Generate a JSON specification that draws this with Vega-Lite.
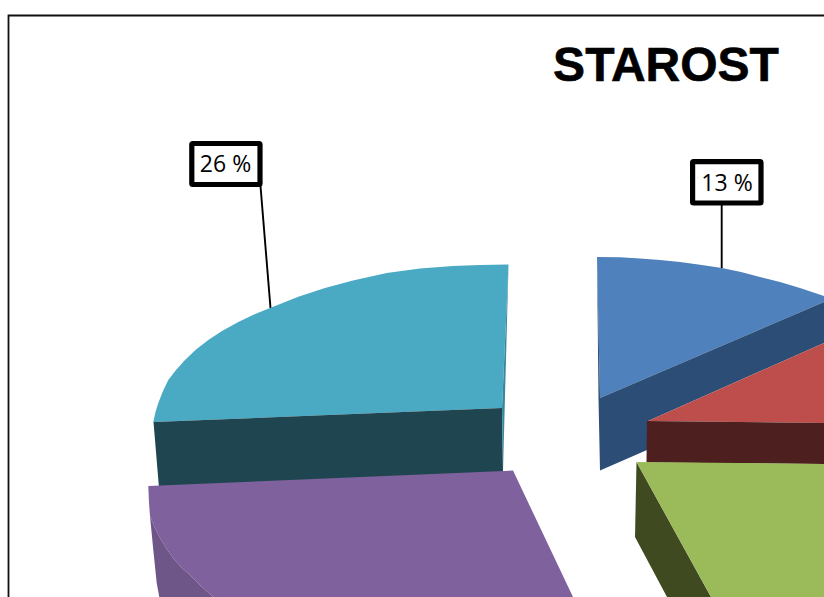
{
  "$schema": "https://vega.github.io/schema/vega-lite/v6.json",
  "width": 824,
  "height": 597,
  "padding": 0,
  "autosize": "none",
  "background": "white",
  "config": {"view": {"stroke": null}},
  "datasets": {
    "faces": [
      {"piece":"a_teal_top","seq":1,"x":508.5,"y":264.5},{"piece":"a_teal_top","seq":2,"x":480,"y":265},{"piece":"a_teal_top","seq":3,"x":453,"y":266},{"piece":"a_teal_top","seq":4,"x":420,"y":268.5},{"piece":"a_teal_top","seq":5,"x":386.7,"y":273},{"piece":"a_teal_top","seq":6,"x":353,"y":280.5},{"piece":"a_teal_top","seq":7,"x":325,"y":288},{"piece":"a_teal_top","seq":8,"x":298.3,"y":296.7},{"piece":"a_teal_top","seq":9,"x":270,"y":308},{"piece":"a_teal_top","seq":10,"x":253,"y":315},{"piece":"a_teal_top","seq":11,"x":238.3,"y":322},{"piece":"a_teal_top","seq":12,"x":222,"y":331},{"piece":"a_teal_top","seq":13,"x":208.3,"y":340},{"piece":"a_teal_top","seq":14,"x":196,"y":349.5},{"piece":"a_teal_top","seq":15,"x":185,"y":360},{"piece":"a_teal_top","seq":16,"x":176,"y":370},{"piece":"a_teal_top","seq":17,"x":168.3,"y":380},{"piece":"a_teal_top","seq":18,"x":163,"y":391},{"piece":"a_teal_top","seq":19,"x":158.3,"y":403},{"piece":"a_teal_top","seq":20,"x":155.5,"y":412},{"piece":"a_teal_top","seq":21,"x":153.3,"y":422},{"piece":"a_teal_top","seq":22,"x":502,"y":408},
      {"piece":"b_teal_side","seq":1,"x":153.5,"y":422},{"piece":"b_teal_side","seq":2,"x":502,"y":408},{"piece":"b_teal_side","seq":3,"x":503,"y":472},{"piece":"b_teal_side","seq":4,"x":159,"y":488},
      {"piece":"c_teal_cut","seq":1,"x":508.5,"y":265},{"piece":"c_teal_cut","seq":2,"x":502,"y":408},{"piece":"c_teal_cut","seq":3,"x":503,"y":471},
      {"piece":"d_blue_top","seq":1,"x":597,"y":257},{"piece":"d_blue_top","seq":2,"x":620,"y":257.3},{"piece":"d_blue_top","seq":3,"x":640,"y":258.5},{"piece":"d_blue_top","seq":4,"x":660,"y":260},{"piece":"d_blue_top","seq":5,"x":680,"y":262},{"piece":"d_blue_top","seq":6,"x":700,"y":264.7},{"piece":"d_blue_top","seq":7,"x":722,"y":268},{"piece":"d_blue_top","seq":8,"x":741,"y":272},{"piece":"d_blue_top","seq":9,"x":760,"y":277},{"piece":"d_blue_top","seq":10,"x":780,"y":282},{"piece":"d_blue_top","seq":11,"x":800,"y":288},{"piece":"d_blue_top","seq":12,"x":824,"y":296},{"piece":"d_blue_top","seq":13,"x":824,"y":302},{"piece":"d_blue_top","seq":14,"x":600,"y":398},
      {"piece":"e_blue_side","seq":1,"x":600,"y":398},{"piece":"e_blue_side","seq":2,"x":824,"y":302},{"piece":"e_blue_side","seq":3,"x":824,"y":343},{"piece":"e_blue_side","seq":4,"x":648,"y":421},{"piece":"e_blue_side","seq":5,"x":647,"y":450},{"piece":"e_blue_side","seq":6,"x":600,"y":470.5},{"piece":"e_blue_side","seq":7,"x":598.5,"y":398},{"piece":"e_blue_side","seq":8,"x":597,"y":257},
      {"piece":"f_red_top","seq":1,"x":648,"y":421},{"piece":"f_red_top","seq":2,"x":824,"y":343},{"piece":"f_red_top","seq":3,"x":824,"y":423},
      {"piece":"g_red_side","seq":1,"x":647,"y":421},{"piece":"g_red_side","seq":2,"x":824,"y":423},{"piece":"g_red_side","seq":3,"x":824,"y":464},{"piece":"g_red_side","seq":4,"x":646.5,"y":462.5},
      {"piece":"h_green_side","seq":1,"x":636.5,"y":462},{"piece":"h_green_side","seq":2,"x":711,"y":597},{"piece":"h_green_side","seq":3,"x":667,"y":597},{"piece":"h_green_side","seq":4,"x":635,"y":537},
      {"piece":"i_green_top","seq":1,"x":636.5,"y":462},{"piece":"i_green_top","seq":2,"x":824,"y":464},{"piece":"i_green_top","seq":3,"x":824,"y":597},{"piece":"i_green_top","seq":4,"x":711,"y":597},
      {"piece":"j_purple_top","seq":1,"x":148.3,"y":486},{"piece":"j_purple_top","seq":2,"x":513,"y":470.5},{"piece":"j_purple_top","seq":3,"x":573,"y":597},{"piece":"j_purple_top","seq":4,"x":213,"y":597},{"piece":"j_purple_top","seq":5,"x":201,"y":586},{"piece":"j_purple_top","seq":6,"x":190,"y":575},{"piece":"j_purple_top","seq":7,"x":181,"y":567},{"piece":"j_purple_top","seq":8,"x":173,"y":558},{"piece":"j_purple_top","seq":9,"x":166,"y":548},{"piece":"j_purple_top","seq":10,"x":160,"y":538},{"piece":"j_purple_top","seq":11,"x":154.5,"y":527},{"piece":"j_purple_top","seq":12,"x":150,"y":516},{"piece":"j_purple_top","seq":13,"x":149,"y":503},
      {"piece":"k_purple_side","seq":1,"x":150,"y":516},{"piece":"k_purple_side","seq":2,"x":154.5,"y":527},{"piece":"k_purple_side","seq":3,"x":160,"y":538},{"piece":"k_purple_side","seq":4,"x":166,"y":548},{"piece":"k_purple_side","seq":5,"x":173,"y":558},{"piece":"k_purple_side","seq":6,"x":181,"y":567},{"piece":"k_purple_side","seq":7,"x":190,"y":575},{"piece":"k_purple_side","seq":8,"x":201,"y":586},{"piece":"k_purple_side","seq":9,"x":213,"y":597},{"piece":"k_purple_side","seq":10,"x":159.3,"y":597},{"piece":"k_purple_side","seq":11,"x":156.7,"y":583},{"piece":"k_purple_side","seq":12,"x":153,"y":547}
    ],
    "outlines": [
      {"line":"frame","seq":1,"x":8.5,"y":597},{"line":"frame","seq":2,"x":8.5,"y":15.5},{"line":"frame","seq":3,"x":824,"y":15.5}
    ],
    "leaders": [
      {"line":"26","seq":1,"x":260.5,"y":186},{"line":"26","seq":2,"x":270.5,"y":308},
      {"line":"13","seq":1,"x":721.7,"y":205},{"line":"13","seq":2,"x":721.7,"y":268}
    ],
    "labels": [
      {"label":"26 %","x0":191.8,"x1":260,"y0":143.5,"y1":184.5,"cx":225.5,"cy":165},
      {"label":"13 %","x0":692.6,"x1":761,"y0":161.7,"y1":203,"cx":727,"cy":183.5}
    ],
    "heading": [{"label":"STAROST","cx":666,"cy":81}]
  },
  "layer": [
    {
      "data": {"name": "outlines"},
      "mark": {"type": "line", "stroke": "#111111", "strokeWidth": 1.8},
      "encoding": {
        "x": {"field": "x", "type": "quantitative", "scale": {"domain": [0, 824]}, "axis": null},
        "y": {"field": "y", "type": "quantitative", "scale": {"domain": [597, 0]}, "axis": null},
        "order": {"field": "seq", "type": "quantitative"}
      }
    },
    {
      "data": {"name": "leaders"},
      "mark": {"type": "line", "stroke": "#000000", "strokeWidth": 1.9},
      "encoding": {
        "x": {"field": "x", "type": "quantitative", "scale": {"domain": [0, 824]}, "axis": null},
        "y": {"field": "y", "type": "quantitative", "scale": {"domain": [597, 0]}, "axis": null},
        "detail": {"field": "line"},
        "order": {"field": "seq", "type": "quantitative"}
      }
    },
    {
      "data": {"name": "faces"},
      "mark": {"type": "line", "strokeWidth": 0, "interpolate": "linear"},
      "encoding": {
        "x": {"field": "x", "type": "quantitative", "scale": {"domain": [0, 824]}, "axis": null},
        "y": {"field": "y", "type": "quantitative", "scale": {"domain": [597, 0]}, "axis": null},
        "fill": {
          "field": "piece",
          "type": "nominal",
          "legend": null,
          "sort": null,
          "scale": {
            "domain": ["a_teal_top","b_teal_side","c_teal_cut","d_blue_top","e_blue_side","f_red_top","g_red_side","h_green_side","i_green_top","j_purple_top","k_purple_side"],
            "range": ["#4aa9c3","#1f4650","#37889e","#4f81bd","#2c4d75","#bd4e4b","#4d1f1f","#404a20","#9bba59","#7f619e","#6f5689"]
          }
        },
        "detail": {"field": "piece"},
        "order": {"field": "seq", "type": "quantitative"}
      }
    },
    {
      "data": {"name": "labels"},
      "mark": {"type": "rect", "fill": "white", "stroke": "#000000", "strokeWidth": 5.2, "cornerRadius": 1},
      "encoding": {
        "x": {"field": "x0", "type": "quantitative", "scale": {"domain": [0, 824]}, "axis": null},
        "x2": {"field": "x1"},
        "y": {"field": "y0", "type": "quantitative", "scale": {"domain": [597, 0]}, "axis": null},
        "y2": {"field": "y1"}
      }
    },
    {
      "data": {"name": "labels"},
      "mark": {"type": "text", "font": "Open Sans", "fontSize": 23, "color": "#000000", "align": "center", "baseline": "middle"},
      "encoding": {
        "x": {"field": "cx", "type": "quantitative", "scale": {"domain": [0, 824]}, "axis": null},
        "y": {"field": "cy", "type": "quantitative", "scale": {"domain": [597, 0]}, "axis": null},
        "text": {"field": "label"}
      }
    },
    {
      "data": {"name": "heading"},
      "mark": {"type": "text", "font": "Liberation Sans", "fontWeight": "bold", "fontSize": 48, "color": "#000000", "align": "center", "baseline": "alphabetic", "stroke": "#000000", "strokeWidth": 0.6},
      "encoding": {
        "x": {"field": "cx", "type": "quantitative", "scale": {"domain": [0, 824]}, "axis": null},
        "y": {"field": "cy", "type": "quantitative", "scale": {"domain": [597, 0]}, "axis": null},
        "text": {"field": "label"}
      }
    }
  ]
}
